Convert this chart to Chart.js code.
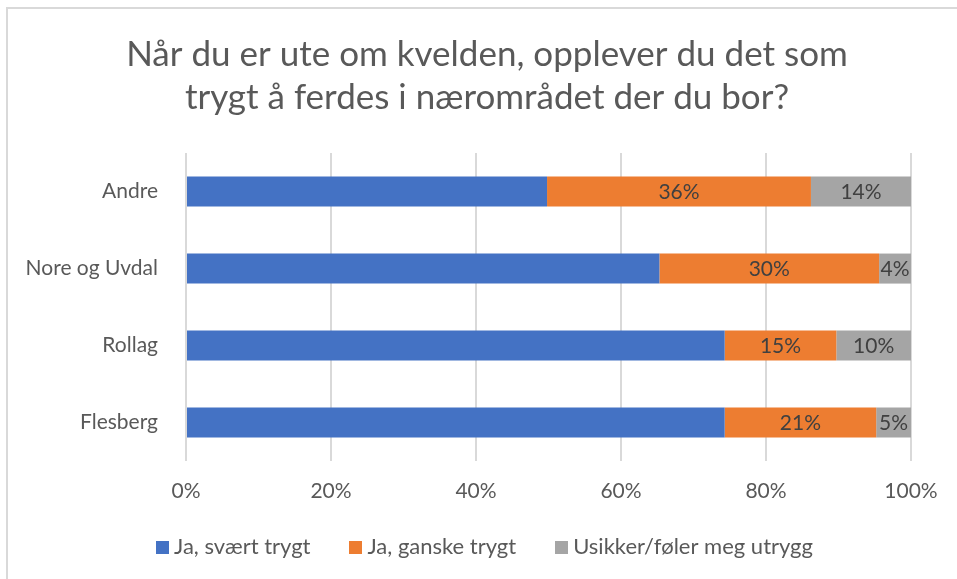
<!DOCTYPE html>
<html>
<head>
<meta charset="utf-8">
<script src="https://cdn.jsdelivr.net/npm/chart.js@4/dist/chart.umd.min.js"></script>
<style>
  html, body { margin: 0; padding: 0; background: #fff; }
  #wrap { position: relative; width: 957px; height: 579px; overflow: hidden; }
  #frame { position: absolute; left: 6px; top: 7px; width: 1000px; height: 1000px; border: 2px solid #d9d9d9; box-sizing: border-box; pointer-events: none; }
  canvas { position: absolute; left: 0; top: 0; }
</style>
</head>
<body>
<div id="wrap">
  <canvas id="myChart" width="957" height="579"></canvas>
  <div id="frame"></div>
</div>
<script>
const titleLines = ["Når du er ute om kvelden, opplever du det som", "trygt å ferdes i nærområdet der du bor?"];
const places = ["Andre", "Nore og Uvdal", "Rollag", "Flesberg"];
const seriesNames = ["Ja, svært trygt", "Ja, ganske trygt", "Usikker/føler meg utrygg"];
const seriesColors = ["#4472C4", "#ED7D31", "#A5A5A5"];
const veryTrygt = [49.8, 65.3, 74.3, 74.3];
const ganskeTrygt = [36.4, 30.3, 15.4, 20.9];
const usikker = [13.8, 4.4, 10.3, 4.8];
const xTicks = [0, 20, 40, 60, 80, 100];

const fontFamily = "Lato, 'Open Sans', sans-serif";
const textColor = "#595959";

// small square swatches for the legend
function swatch(color) {
  const c = document.createElement("canvas");
  c.width = 13;
  c.height = 13;
  const g = c.getContext("2d");
  g.fillStyle = color;
  g.fillRect(0, 0, 13, 13);
  return c;
}
const swatches = seriesColors.map(swatch);

// axis boxes are squeezed, so let the tick labels draw outside them
function fixSize(prop, size) {
  return scale => {
    scale[prop] = size;
    scale._computeLabelArea = () => null;
  };
}

// draws the % labels in the orange and gray segments
const segmentLabels = {
  id: "segmentLabels",
  afterDatasetsDraw(chart) {
    const ctx = chart.ctx;
    ctx.save();
    ctx.font = "21px " + fontFamily;
    ctx.fillStyle = "#404040";
    ctx.textAlign = "center";
    ctx.textBaseline = "middle";
    chart.data.datasets.forEach((ds, i) => {
      if (i === 0) return;
      chart.getDatasetMeta(i).data.forEach((bar, j) => {
        const v = ds.data[j];
        ctx.fillText(Math.round(v) + "%", (bar.x + bar.base) / 2, bar.y + 1);
      });
    });
    ctx.restore();
  }
};

new Chart(document.getElementById("myChart"), {
  type: "bar",
  data: {
    labels: places,
    datasets: [veryTrygt, ganskeTrygt, usikker].map((data, i) => ({
      label: seriesNames[i],
      data: data,
      backgroundColor: seriesColors[i],
      borderWidth: 0,
      barPercentage: 1,
      categoryPercentage: 0.39,
    })),
  },
  options: {
    indexAxis: "y",
    responsive: false,
    animation: false,
    layout: {padding: {left: 63, right: 46, top: 0, bottom: 11}},
    scales: {
      x: {
        stacked: true,
        min: 0,
        max: 100,
        afterBuildTicks: scale => { scale.ticks = xTicks.map(v => ({value: v})); },
        afterFit: fixSize("height", 31),
        ticks: {
          color: textColor,
          font: {family: fontFamily, size: 21},
          padding: 18,
          maxRotation: 0,
          callback: v => v + "%",
        },
        grid: {color: "#d9d9d9", lineWidth: 2, drawTicks: false},
        border: {display: false},
      },
      y: {
        stacked: true,
        afterFit: fixSize("width", 123),
        ticks: {
          color: textColor,
          font: {family: fontFamily, size: 21},
          padding: 28,
        },
        grid: {display: false, drawTicks: false},
        border: {display: false},
      },
    },
    plugins: {
      title: {
        display: true,
        text: titleLines,
        color: textColor,
        font: {family: fontFamily, size: 35, weight: "normal", lineHeight: 1.23},
        padding: {top: 33, bottom: 34},
      },
      legend: {
        position: "bottom",
        labels: {
          color: textColor,
          font: {family: fontFamily, size: 22},
          usePointStyle: true,
          pointStyleWidth: 2,
          boxHeight: 13,
          padding: 44,
          generateLabels: chart => Chart.defaults.plugins.legend.labels.generateLabels(chart)
            .map((item, i) => Object.assign(item, {pointStyle: swatches[i]})),
        },
      },
      tooltip: {enabled: false},
    },
  },
  plugins: [segmentLabels],
});
</script>
</body>
</html>
